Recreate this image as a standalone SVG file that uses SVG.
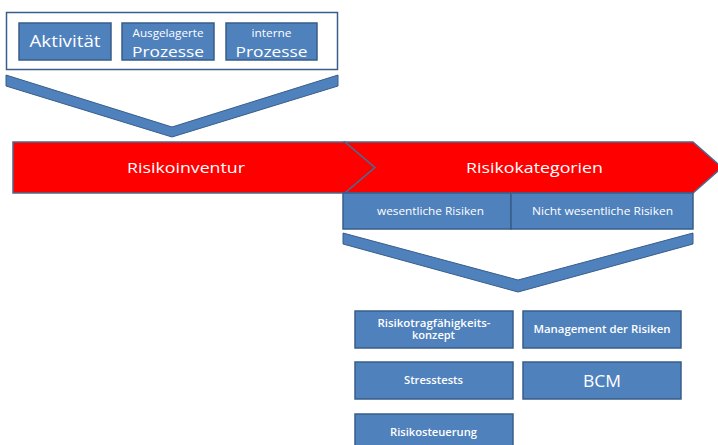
<svg xmlns="http://www.w3.org/2000/svg" width="718" height="445" viewBox="0 0 718 445">
<style>
.box{fill:#4F81BD;stroke:#385D8A;stroke-width:1.5}
.red{fill:#FF0000;stroke:#4A6A8E;stroke-width:1.5}
.chev{fill:#4F81BD;stroke:#385D8A;stroke-width:1}
text{font-family:"Open Sans","Liberation Sans",sans-serif;fill:#FFFFFF;text-anchor:middle}
.sb{font-weight:600}
</style>
<rect width="718" height="445" fill="#FFFFFF"/>
<g id="container">
<rect x="6.5" y="12.5" width="331" height="57" fill="#FFFFFF" stroke="#385D8A" stroke-width="1.5"/>
</g>
<g id="aktivitaet">
<rect class="box" x="19" y="23" width="92" height="37"/>
<text x="65" y="47" font-size="16" textLength="71" lengthAdjust="spacingAndGlyphs">Aktivität</text>
</g>
<g id="ausgelagerte">
<rect class="box" x="122" y="23" width="92" height="37"/>
<text x="168" y="37" font-size="10" textLength="71" lengthAdjust="spacingAndGlyphs">Ausgelagerte</text>
<text x="168" y="57" font-size="15" textLength="72" lengthAdjust="spacingAndGlyphs">Prozesse</text>
</g>
<g id="interne">
<rect class="box" x="226" y="23" width="91" height="37"/>
<text x="271.5" y="37" font-size="10" textLength="40" lengthAdjust="spacingAndGlyphs">interne</text>
<text x="271.5" y="57" font-size="15" textLength="72" lengthAdjust="spacingAndGlyphs">Prozesse</text>
</g>
<g id="connectors">
<polygon class="chev" points="6,75 172,127 338,75 338,86 172,137 6,86"/>
<polygon class="chev" points="343,233 518,280 693,233 693,244 518,292 343,244"/>
</g>
<g id="risikoinventur">
<polygon class="red" points="13,142 345,142 375,167.5 345,193 13,193"/>
<text x="186" y="173" font-size="15" textLength="118" lengthAdjust="spacingAndGlyphs">Risikoinventur</text>
</g>
<g id="risikokategorien">
<polygon class="red" points="345,142 693,142 722,167.5 693,193 345,193 375,167.5"/>
<text x="534.5" y="173" font-size="15" textLength="137" lengthAdjust="spacingAndGlyphs">Risikokategorien</text>
</g>
<g id="wesentliche">
<rect class="box" x="343" y="193" width="168" height="36"/>
<text x="430.5" y="215" font-size="10" textLength="107" lengthAdjust="spacingAndGlyphs">wesentliche Risiken</text>
</g>
<g id="nichtwesentliche">
<rect class="box" x="511" y="193" width="182" height="36"/>
<text x="602.5" y="215" font-size="10" textLength="141" lengthAdjust="spacingAndGlyphs">Nicht wesentliche Risiken</text>
</g>
<g id="rtk">
<rect class="box" x="355" y="311" width="158" height="37"/>
<text class="sb" x="434" y="326.5" font-size="10" textLength="113" lengthAdjust="spacingAndGlyphs">Risikotragfähigkeits-</text>
<text class="sb" x="433.5" y="339" font-size="10" textLength="43" lengthAdjust="spacingAndGlyphs">konzept</text>
</g>
<g id="management">
<rect class="box" x="523" y="311" width="158" height="37"/>
<text class="sb" x="602" y="333" font-size="10" textLength="137" lengthAdjust="spacingAndGlyphs">Management der Risiken</text>
</g>
<g id="stresstests">
<rect class="box" x="355" y="362" width="158" height="37"/>
<text class="sb" x="433.5" y="384" font-size="10" textLength="59" lengthAdjust="spacingAndGlyphs">Stresstests</text>
</g>
<g id="bcm">
<rect class="box" x="523" y="362" width="158" height="37"/>
<text x="602" y="387" font-size="16" textLength="38" lengthAdjust="spacingAndGlyphs">BCM</text>
</g>
<g id="risikosteuerung">
<rect class="box" x="355" y="414" width="158" height="37"/>
<text class="sb" x="433.5" y="436" font-size="10" textLength="87" lengthAdjust="spacingAndGlyphs">Risikosteuerung</text>
</g>
</svg>
